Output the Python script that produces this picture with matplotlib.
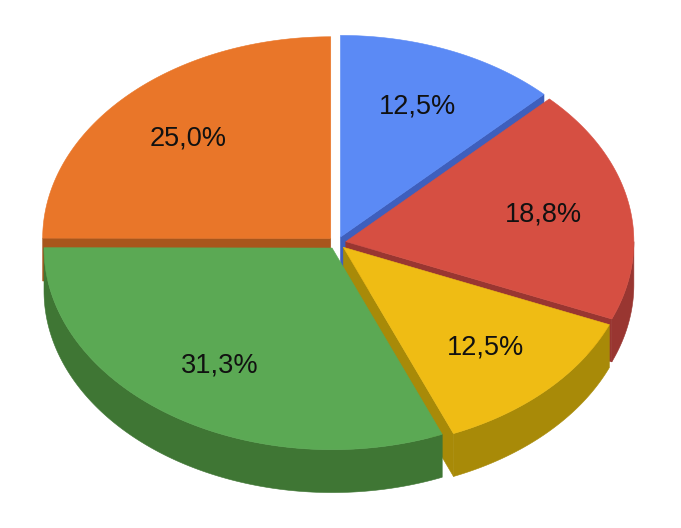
import numpy as np
import matplotlib.pyplot as plt
from matplotlib.patches import Polygon

# shares (percent), clockwise from 12 o'clock
shares = [12.5, 18.8, 12.5, 31.3, 25.0]
labels = ['12,5%', '18,8%', '12,5%', '31,3%', '25,0%']
top_colors = ['#5b8af5', '#d64f42', '#efbc14', '#5ba954', '#e97629']
side_colors = ['#3e5fbd', '#993631', '#a88a08', '#3f7634', '#a8561c']

# look of the 3d pie
tilt = 0.70      # vertical squash of the top face
depth = 0.149    # thickness of the pie
explode = 0.031  # offset of every slice along its bisector
label_r = 0.70


def rim(t, ox, oy, z=0.0):
    return np.sin(t) + ox, np.cos(t) * tilt + oy - z


fig = plt.figure(figsize=(6.81, 5.28), dpi=100)
ax = fig.add_axes([0, 0, 1, 1])
ax.set_xlim(-1.170, 1.194)
ax.set_ylim(-0.990, 0.843)
ax.axis('off')

fracs = np.array(shares) / np.sum(shares)
edges = np.concatenate([[0], np.cumsum(fracs)]) * 2 * np.pi

walls = []   # (world depth, polygon, colour)
tops = []
for i in range(len(shares)):
    t1, t2 = edges[i], edges[i + 1]
    mid = (t1 + t2) / 2
    ox = explode * np.sin(mid)
    oy = explode * np.cos(mid) * tilt
    wv = explode * np.cos(mid)

    # top face
    ts = np.linspace(t1, t2, 200)
    xs, ys = rim(ts, ox, oy)
    pts = np.column_stack([np.r_[ox, xs], np.r_[oy, ys]])
    tops.append((pts, top_colors[i]))

    # outer wall, only the part facing us
    a, b = max(t1, np.pi / 2), min(t2, 3 * np.pi / 2)
    if b > a:
        ts = np.linspace(a, b, 150)
        x0, y0 = rim(ts, ox, oy)
        x1, y1 = rim(ts[::-1], ox, oy, depth)
        pts = np.column_stack([np.r_[x0, x1], np.r_[y0, y1]])
        m = (a + b) / 2
        walls.append((wv + np.cos(m), pts, side_colors[i]))

    # cut walls along the radial edges
    for t, n in [(t1, t1 - np.pi / 2), (t2, t2 + np.pi / 2)]:
        if np.cos(n) < -1e-6:
            rx, ry = rim(t, ox, oy)
            pts = [(ox, oy), (rx, ry), (rx, ry - depth), (ox, oy - depth)]
            walls.append((wv + 0.5 * np.cos(t), np.array(pts), side_colors[i]))

    # label
    lx = ox + label_r * np.sin(mid)
    ly = oy + label_r * np.cos(mid) * tilt
    ax.text(lx, ly, labels[i], ha='center', va='center', fontsize=19.5,
            family=['Liberation Sans', 'DejaVu Sans'], color='#111111', zorder=10)

walls.sort(key=lambda w: -w[0])
for z, (_, pts, c) in enumerate(walls):
    ax.add_patch(Polygon(pts, closed=True, facecolor=c, edgecolor=c, lw=0.4, zorder=1 + z * 0.01))
for pts, c in tops:
    ax.add_patch(Polygon(pts, closed=True, facecolor=c, edgecolor=c, lw=0.4, zorder=3))

fig.savefig('out.png', dpi=100, facecolor='white')
